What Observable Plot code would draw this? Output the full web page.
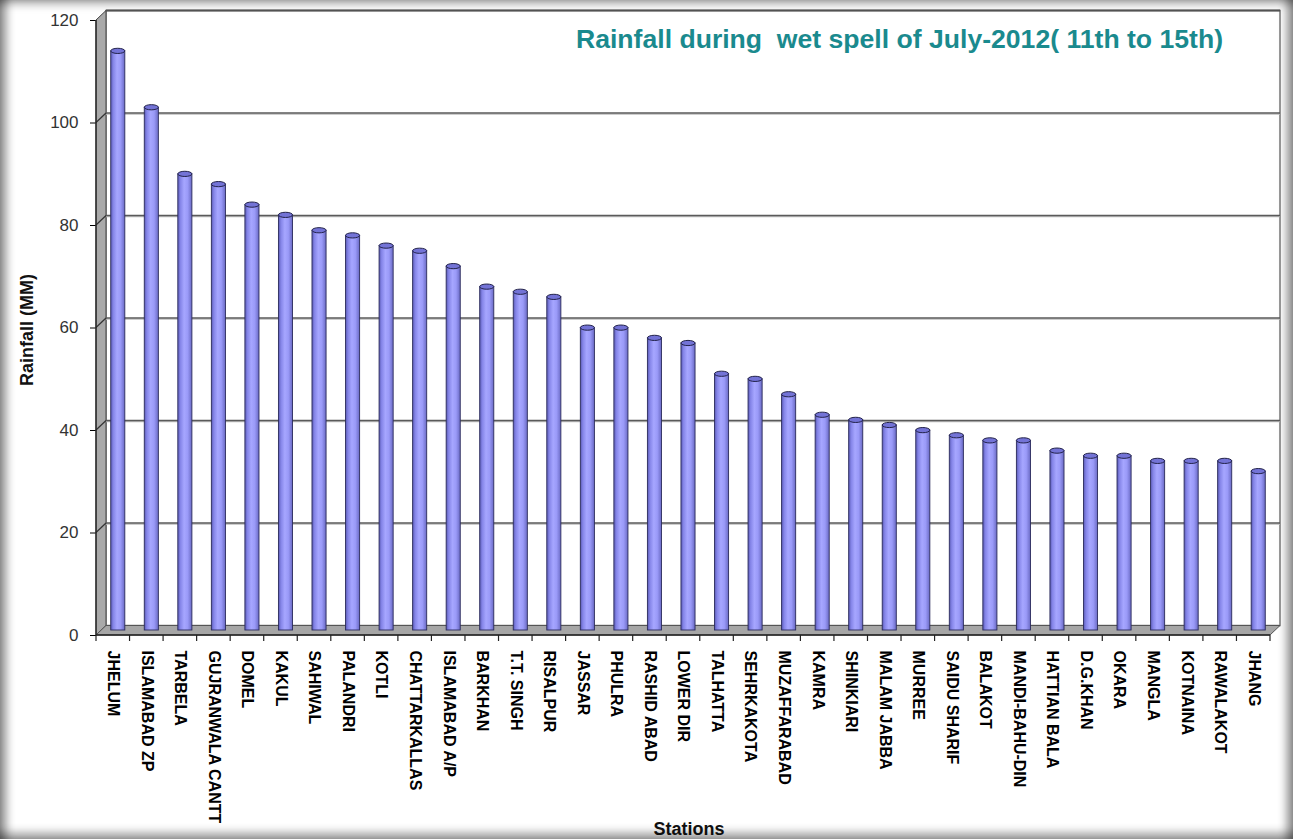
<!DOCTYPE html>
<html>
<head>
<meta charset="utf-8">
<script src="https://cdn.jsdelivr.net/npm/d3@7"></script>
<script src="https://cdn.jsdelivr.net/npm/@observablehq/plot@0.6"></script>
<style>
  body { margin: 0; background: #fff; }
  #wrap { position: relative; width: 1293px; height: 839px; overflow: hidden; background: #fff;
          font-family: Arial, "Liberation Sans", sans-serif; }
  #chart { position: absolute; left: 0; top: 0; }
  #title { position: absolute; left: 576px; top: 24px; font-weight: bold; font-size: 25px; color: #1a8a8e;
           white-space: pre; transform-origin: 0 0; line-height: 1.2; }
  #ylabel { position: absolute; left: 27px; top: 330px; font-weight: bold; font-size: 18px; color: #111;
            white-space: nowrap; transform: translate(-50%, -50%) rotate(-90deg); }
  #xlabel { position: absolute; left: 689px; top: 829px; font-weight: bold; font-size: 18px; color: #111;
            white-space: nowrap; transform: translate(-50%, -50%); }
  #frame { position: absolute; inset: 0; pointer-events: none;
           box-shadow: inset 13px 0 10px -7px rgba(0,0,0,0.45), inset -12px 0 10px -6px rgba(0,0,0,0.45),
                       inset 0 9px 8px -5px rgba(0,0,0,0.35), inset 0 -13px 10px -7px rgba(0,0,0,0.4); }
</style>
</head>
<body>
<div id="wrap">
  <div id="chart"></div>
  <div id="title">Rainfall during  wet spell of July-2012( 11th to 15th)</div>
  <div id="ylabel">Rainfall (MM)</div>
  <div id="xlabel">Stations</div>
  <div id="frame"></div>
</div>
<script>
// ---- data ----
const stations = ["JHELUM","ISLAMABAD ZP","TARBELA","GUJRANWALA CANTT","DOMEL","KAKUL","SAHIWAL","PALANDRI",
  "KOTLI","CHATTARKALLAS","ISLAMABAD A/P","BARKHAN","T.T. SINGH","RISALPUR","JASSAR","PHULRA","RASHID ABAD",
  "LOWER DIR","TALHATTA","SEHRKAKOTA","MUZAFFARABAD","KAMRA","SHINKIARI","MALAM JABBA","MURREE","SAIDU SHARIF",
  "BALAKOT","MANDI-BAHU-DIN","HATTIAN BALA","D.G.KHAN","OKARA","MANGLA","KOTNAINA","RAWALAKOT","JHANG"];
const rainfall = [113,102,89,87,83,81,78,77,75,74,71,67,66,65,59,59,57,56,50,49,46,42,41,40,39,38,37,37,35,34,34,33,33,33,31];
const yTicks = [0,20,40,60,80,100,120];

const data = stations.map((s, i) => ({station: s, rain: rainfall[i]}));

const DEPTH_X = 10, DEPTH_Y = -9.5;
const BAR_DX = 5, BAR_DY = -5;
const PAD = 0.58;
const M_LEFT = 96, M_RIGHT = 23, W = 1293;

function bw(x) { return typeof x.bandwidth === "function" ? x.bandwidth() : x.bandwidth; }

function walls(index, scales, values, dims) {
  const {x, y} = scales;
  const x0 = dims.marginLeft, x1 = dims.width - dims.marginRight;
  const yb = y(0), yt = y(yTicks[yTicks.length - 1]);
  const g = d3.create("svg:g");
  g.append("polygon")
    .attr("points", [[x0 + DEPTH_X, yt + DEPTH_Y], [x1 + DEPTH_X, yt + DEPTH_Y], [x1 + DEPTH_X, yb + DEPTH_Y], [x0 + DEPTH_X, yb + DEPTH_Y]].join(" "))
    .attr("fill", "#fff").attr("stroke", "#7a7a7a").attr("stroke-width", 1.5);
  g.append("polygon")
    .attr("points", [[x0, yb], [x0, yt], [x0 + DEPTH_X, yt + DEPTH_Y], [x0 + DEPTH_X, yb + DEPTH_Y]].join(" "))
    .attr("fill", "#a9a9a9").attr("stroke", "#444").attr("stroke-width", 1);
  g.append("polygon")
    .attr("points", [[x0, yb], [x0 + DEPTH_X, yb + DEPTH_Y], [x1 + DEPTH_X, yb + DEPTH_Y], [x1, yb]].join(" "))
    .attr("fill", "#a6a6a6").attr("stroke", "#555").attr("stroke-width", 1);
  for (const v of yTicks.slice(1, -1)) {
    const yy = y(v);
    g.append("line").attr("x1", x0 + DEPTH_X).attr("x2", x1 + DEPTH_X)
      .attr("y1", yy + DEPTH_Y + 1.2).attr("y2", yy + DEPTH_Y + 1.2)
      .attr("stroke", "#bdbdbd").attr("stroke-width", 1.2);
    g.append("line").attr("x1", x0 + DEPTH_X).attr("x2", x1 + DEPTH_X)
      .attr("y1", yy + DEPTH_Y).attr("y2", yy + DEPTH_Y)
      .attr("stroke", "#5a5a5a").attr("stroke-width", 1.5);
    g.append("line").attr("x1", x0).attr("x2", x0 + DEPTH_X)
      .attr("y1", yy).attr("y2", yy + DEPTH_Y)
      .attr("stroke", "#333").attr("stroke-width", 1.2);
  }
  g.append("line").attr("x1", x0 + DEPTH_X).attr("x2", x1 + DEPTH_X)
    .attr("y1", yt + DEPTH_Y).attr("y2", yt + DEPTH_Y).attr("stroke", "#555").attr("stroke-width", 2);
  g.append("line").attr("x1", x0).attr("x2", x0).attr("y1", yt).attr("y2", yb).attr("stroke", "#222").attr("stroke-width", 1.3);
  g.append("line").attr("x1", x0).attr("x2", x1).attr("y1", yb).attr("y2", yb).attr("stroke", "#222").attr("stroke-width", 1.3);
  // x ticks at category boundaries, derived from the band scale
  const w = bw(x);
  const step = w / (1 - PAD);
  const bounds = stations.map(s => x(s) + w / 2 - step / 2);
  bounds.push(bounds[bounds.length - 1] + step);
  for (const xx of bounds) {
    g.append("line").attr("x1", xx).attr("x2", xx).attr("y1", yb).attr("y2", yb + 6).attr("stroke", "#222").attr("stroke-width", 1.2);
  }
  return g.node();
}

function tops(index, scales) {
  const {x, y} = scales;
  const w = bw(x);
  const g = d3.create("svg:g");
  for (const d of data) {
    g.append("ellipse")
      .attr("cx", x(d.station) + w / 2 + BAR_DX)
      .attr("cy", y(d.rain) + BAR_DY)
      .attr("rx", w / 2).attr("ry", 2.6)
      .attr("fill", "#7373d6").attr("stroke", "#22224a").attr("stroke-width", 1);
  }
  return g.node();
}

// band range extends by half a gap beyond the frame so category boundaries meet the frame edges
const plotW = W - M_LEFT - M_RIGHT;
const stepEst = plotW / stations.length;
const half = (PAD / 2) * stepEst;

const chart = Plot.plot({
  width: W,
  height: 839,
  marginTop: 20,
  marginBottom: 204,
  marginLeft: M_LEFT,
  marginRight: M_RIGHT,
  style: {fontFamily: "Arial, 'Liberation Sans', sans-serif", background: "transparent", overflow: "visible"},
  x: {type: "band", domain: stations, padding: PAD, paddingInner: PAD, paddingOuter: PAD, round: false,
      range: [M_LEFT - half, W - M_RIGHT + half], label: null,
      tickSize: 0, tickPadding: 15, tickRotate: 90},
  y: {domain: [0, 120], ticks: yTicks, tickSize: 6, tickPadding: 12, label: null, tickFormat: d => String(d)},
  marks: [
    walls,
    Plot.barY(data, {x: "station", y: "rain", fill: "url(#cyl)", stroke: "#2c2c5c", strokeWidth: 0.9,
                     dx: BAR_DX, dy: BAR_DY}),
    tops
  ]
});

const svg = d3.select(chart);
const defs = svg.insert("defs", ":first-child");
const grad = defs.append("linearGradient").attr("id", "cyl").attr("x1", 0).attr("x2", 1).attr("y1", 0).attr("y2", 0);
[[0, "#5a5ab4"], [0.18, "#8585e8"], [0.45, "#a6a6ff"], [0.7, "#9a9af8"], [1, "#6a6ac4"]].forEach(([o, c]) =>
  grad.append("stop").attr("offset", o).attr("stop-color", c));

const stationSet = new Set(stations);
const tickSet = new Set(yTicks.map(String));
svg.selectAll("text").each(function () {
  const t = this.textContent;
  if (stationSet.has(t)) {
    d3.select(this).attr("font-size", "16px").attr("font-weight", "bold").attr("fill", "#000");
  } else if (tickSet.has(t)) {
    d3.select(this).attr("font-size", "17px").attr("fill", "#333");
  }
});

document.getElementById("chart").appendChild(chart);

const title = document.getElementById("title");
const tw = title.getBoundingClientRect().width;
title.style.transform = `scaleX(${647 / tw})`;
</script>
</body>
</html>
